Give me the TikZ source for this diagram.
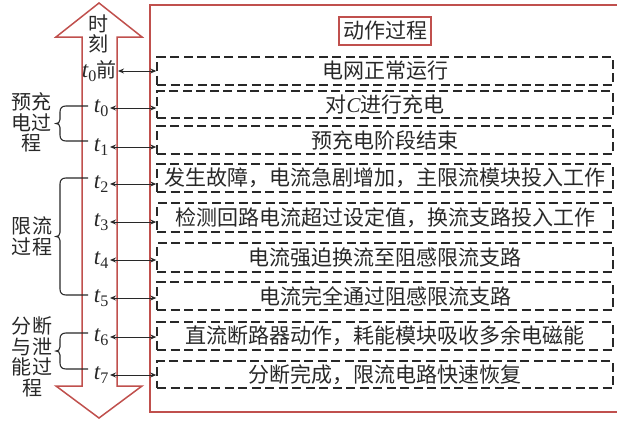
\documentclass[tikz,border=0pt]{standalone}
\usepackage{fontspec}
\setmainfont{Liberation Serif}
\newfontfamily\cjk{Noto Sans CJK SC}
\newfontfamily\latin{Liberation Serif}
\newcommand\tv[1]{{\latin\itshape t}\textsubscript{\latin #1}}
\usetikzlibrary{arrows.meta}
\definecolor{mred}{RGB}{192,80,77}
\definecolor{ink}{RGB}{40,40,40}
\newcommand\phasebrace[3]{%
  \draw[bracket] (88,#1) -- (66,#1) .. controls (62,#1) and (60,#1+2) .. (60,#1+6)
    -- (60,#3-4) .. controls (60,#3-1) and (58,#3) .. (56,#3)
    .. controls (58,#3) and (60,#3+1) .. (60,#3+4)
    -- (60,#2-6) .. controls (60,#2-2) and (62,#2) .. (66,#2) -- (88,#2);}
\begin{document}
\begin{tikzpicture}[x=1pt,y=-1pt,
  every node/.style={font=\cjk\fontsize{21}{22}\selectfont, text=ink},
  redline/.style={draw=mred, line width=1.5pt},
  stagebox/.style={draw=ink, line width=1.4pt, dash pattern=on 9pt off 4.5pt, minimum width=456pt, inner sep=0pt, anchor=center},
  tlabel/.style={anchor=east, inner sep=1pt, font=\latin\fontsize{23}{24}\selectfont},
  link/.style={{Stealth[length=6pt,width=5pt]}-{Stealth[length=6pt,width=5pt]}, line width=1pt, draw=ink},
  bracket/.style={draw=ink, line width=1.1pt},
  sidetext/.style={align=center, inner sep=0pt, font=\cjk\fontsize{20}{20.5}\selectfont}
]
\useasboundingbox (0,0) rectangle (617,421);
% time arrow
\draw[redline, line join=miter] (99,3) -- (142,37) -- (117,37) -- (117,386) -- (142,386) -- (99,418) -- (56,386) -- (82,386) -- (82,37) -- (56,37) -- cycle;
% big frame
\draw[redline] (617,5) -- (150,5) -- (150,412) -- (617,412);
% title
\node[draw=mred, line width=1.5pt, minimum width=92pt, minimum height=28pt, inner sep=0pt] (title) at (385,31) {动作过程};
% stage boxes
\node[stagebox, minimum height=28pt] (b0) at (385,71) {电网正常运行};
\node[stagebox, minimum height=27pt] (b1) at (385,104.5) {对{\latin\itshape C}进行充电};
\node[stagebox, minimum height=28pt] (b2) at (385,140) {预充电阶段结束};
\node[stagebox, minimum height=28pt] (b3) at (385,178) {发生故障，电流急剧增加，主限流模块投入工作};
\node[stagebox, minimum height=29pt] (b4) at (385,217.5) {检测回路电流超过设定值，换流支路投入工作};
\node[stagebox, minimum height=29pt] (b5) at (385,257.5) {电流强迫换流至阻感限流支路};
\node[stagebox, minimum height=28pt] (b6) at (385,296) {电流完全通过阻感限流支路};
\node[stagebox, minimum height=28pt] (b7) at (385,336) {直流断路器动作，耗能模块吸收多余电磁能};
\node[stagebox, minimum height=27pt] (b8) at (385,374.5) {分断完成，限流电路快速恢复};
% time labels
\node[sidetext] (s0) at (98,34) {时\\刻};
\node[tlabel] (l0) at (118,71) {\tv{0}{\cjk\fontsize{20}{20}\selectfont 前}};
\node[tlabel] (l1) at (110,108) {\tv{0}};
\node[tlabel] (l2) at (110,147) {\tv{1}};
\node[tlabel] (l3) at (110,184) {\tv{2}};
\node[tlabel] (l4) at (110,222) {\tv{3}};
\node[tlabel] (l5) at (110,260) {\tv{4}};
\node[tlabel] (l6) at (110,298) {\tv{5}};
\node[tlabel] (l7) at (110,337) {\tv{6}};
\node[tlabel] (l8) at (110,375) {\tv{7}};
% connectors
\draw[link] (l0.east) -- (l0.east -| b0.west);
\draw[link] (l1.east) -- (l1.east -| b1.west);
\draw[link] (l2.east) -- (l2.east -| b2.west);
\draw[link] (l3.east) -- (l3.east -| b3.west);
\draw[link] (l4.east) -- (l4.east -| b4.west);
\draw[link] (l5.east) -- (l5.east -| b5.west);
\draw[link] (l6.east) -- (l6.east -| b6.west);
\draw[link] (l7.east) -- (l7.east -| b7.west);
\draw[link] (l8.east) -- (l8.east -| b8.west);
% braces
\phasebrace{106}{141}{123.5}
\phasebrace{178}{295}{236.5}
\phasebrace{333}{369}{351}
% phase names
\node[sidetext] (s1) at (31,122.5) {预充\\电过\\程};
\node[sidetext] (s2) at (32,236.5) {限流\\过程};
\node[sidetext] (s3) at (32,357) {分断\\与泄\\能过\\程};
\end{tikzpicture}
\end{document}
